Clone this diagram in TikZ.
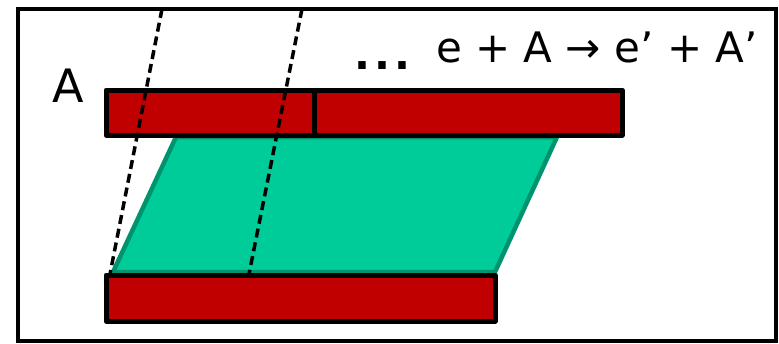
\documentclass[tikz,border=0pt]{standalone}
\usepackage{fontspec}
\setmainfont{DejaVu Sans}
\usetikzlibrary{calc}
\definecolor{barred}{HTML}{C00000}
\definecolor{slabgreen}{HTML}{00CC99}
\definecolor{slabedge}{HTML}{00936E}

\begin{document}
\begin{tikzpicture}[x=1pt,y=-1pt,
    bar/.style={fill=barred,draw=black,line width=5pt,line join=round},
    slab/.style={fill=slabgreen,draw=slabedge,line width=4.5pt,line join=round},
    track/.style={black,line width=3.5pt,dash pattern=on 9pt off 5pt},
    eqtext/.style={font=\fontsize{42}{50}\selectfont,inner sep=0pt,anchor=base west},
  ]
  \useasboundingbox (0,0) rectangle (779,343);

  % ---------------------------------------------------------------- slab
  \coordinate (s1) at (176,137);
  \coordinate (s2) at (557,137);
  \coordinate (s3) at (495,272);
  \coordinate (s4) at (113,272);
  \draw[slab] (s1) -- (s2) -- (s3) -- (s4) -- cycle;

  % ---------------------------------------------------------------- bars
  % top bar in two pieces, bottom bar in one
  \draw[bar] (106,90) rectangle (314,135);
  \draw[bar] (314,90) rectangle (622,135);
  \draw[bar] (106,275) rectangle (495,321);

  % ---------------------------------------------------------------- tracks
  \coordinate (t1) at (162,9);
  \coordinate (b1) at (110,274);
  \coordinate (t2) at (302,9);
  \coordinate (b2) at (249,274);
  \draw[track] (t1) -- (b1);
  \draw[track] (t2) -- (b2);

  % ---------------------------------------------------------------- labels
  \node[eqtext,font=\fontsize{46}{54}\selectfont] (nucl) at (52,102) {A};
  \node[eqtext,font=\fontsize{42}{50}\selectfont\bfseries] (dots) at (354,69) {.\kern4pt.\kern4pt.};
  \node[eqtext] (eq) at (436,62) {e + A → e' + A'};

  % frame
  \draw[line width=3.5pt] (18,9) rectangle (776,341);
\end{tikzpicture}
\end{document}
